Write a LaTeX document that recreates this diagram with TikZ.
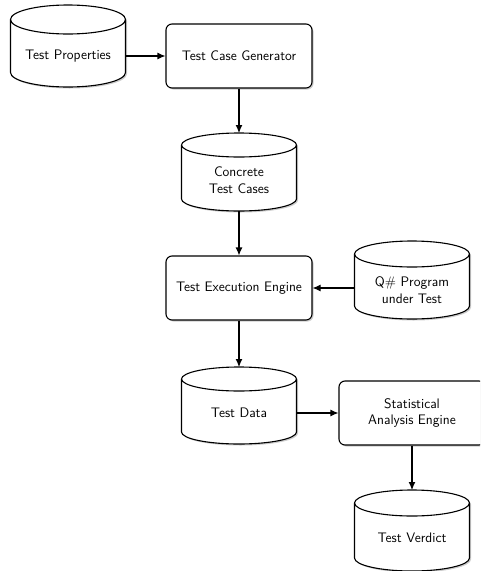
\documentclass[tikz,border=0pt]{standalone}
\usetikzlibrary{shadows,arrows.meta}
\pgfdeclarelayer{background}
\pgfsetlayers{background,main}
\newcommand\cylout[2]{% node name, ellipse y radius (pt)
  \begin{pgfonlayer}{background}
  \path[cylsty] ([yshift=-#2pt]#1.north west) -- ([yshift=#2pt]#1.south west)
    arc[start angle=180,end angle=360,x radius=57.5pt,y radius=#2pt]
    -- ([yshift=-#2pt]#1.north east)
    arc[start angle=0,end angle=180,x radius=57.5pt,y radius=#2pt] -- cycle;
  \draw[lw] ([yshift=-#2pt]#1.north west)
    arc[start angle=180,end angle=360,x radius=57.5pt,y radius=#2pt];
  \end{pgfonlayer}}
\begin{document}
\begin{tikzpicture}[x=1pt,y=1pt,
  every node/.style={font=\sffamily\fontsize{13.8}{16.5}\selectfont, align=center},
  lw/.style={line width=1.1pt},
  shad/.style={drop shadow={shadow xshift=1.5pt, shadow yshift=-1.5pt, opacity=0.4}},
  proc/.style={draw, lw, fill=white, rounded corners=6pt, minimum width=146pt, minimum height=64pt, inner sep=0pt, shad},
  cylbox/.style={minimum width=115pt, inner sep=0pt, outer sep=0pt},
  cylsty/.style={draw, lw, fill=white, shad},
  flow/.style={lw, -{Latex[length=8pt,width=7pt]}}
]
\useasboundingbox (0,0) rectangle (480,-571);
\clip (0,0) rectangle (480,-571);
% processes
\node[proc] (tcg) at (239,-56) {Test Case Generator};
\node[proc] (tee) at (239,-288) {Test Execution Engine};
\node[proc] (sae) at (412,-413) {Statistical\\Analysis Engine};
% data stores
\node[cylbox, minimum height=82pt, label={[yshift=-10pt]center:Test Properties}] (tp) at (68,-46) {};
\cylout{tp}{14.5}
\node[cylbox, minimum height=78pt, label={[yshift=-8pt]center:Concrete\\Test Cases}] (ctc) at (239,-172) {};
\cylout{ctc}{12}
\node[cylbox, minimum height=78pt, label={[yshift=-10pt]center:Q\# Program\\under Test}] (qp) at (412,-280) {};
\cylout{qp}{13}
\node[cylbox, minimum height=77pt, label={[yshift=-7.5pt]center:Test Data}] (td) at (239,-405.5) {};
\cylout{td}{12}
\node[cylbox, minimum height=81pt, label={[yshift=-7.5pt]center:Test Verdict}] (tv) at (412,-530.5) {};
\cylout{tv}{13}
% flows
\draw[flow] (tp.east |- tcg.west) -- (tcg.west);
\draw[flow] (tcg.south) -- (ctc.north);
\draw[flow] (ctc.south) -- (tee.north);
\draw[flow] (qp.west |- tee.east) -- (tee.east);
\draw[flow] (tee.south) -- (td.north);
\draw[flow] (td.east |- sae.west) -- (sae.west);
\draw[flow] (sae.south) -- (tv.north);
\end{tikzpicture}
\end{document}
